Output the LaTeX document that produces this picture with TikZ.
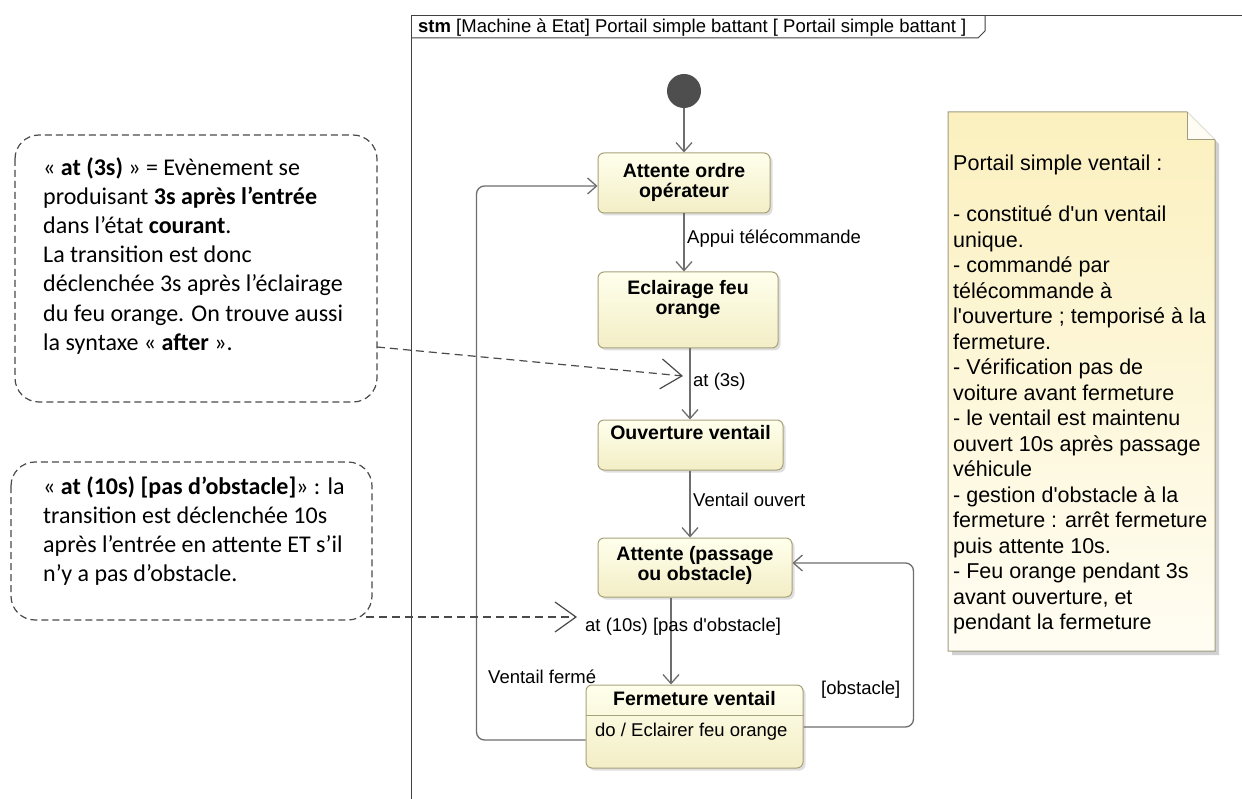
\documentclass[tikz,border=0pt]{standalone}
\usepackage{fontspec}
\setmainfont{Liberation Sans}[Ligatures=TeXOff]
\newfontfamily\calfont{Carlito}
\usetikzlibrary{arrows.meta,shadows,calc}
\definecolor{stborder}{HTML}{A8A27A}
\definecolor{sttop}{HTML}{FFFFEC}
\definecolor{stbot}{HTML}{F3EEC6}
\definecolor{lineg}{HTML}{6E6E6E}
\definecolor{framec}{HTML}{404040}
\definecolor{notetop}{HTML}{FBF0BE}
\definecolor{notebot}{HTML}{FFFDF3}
\definecolor{noteborder}{HTML}{A09C80}
\definecolor{dashg}{HTML}{4A4A4A}
\definecolor{initg}{HTML}{4E4E4E}
\newcommand\dgfont{\fontsize{18.5}{20}\selectfont}
\newcommand\dgbold{\fontsize{19.5}{20}\selectfont\bfseries}
\newcommand\notefont{\fontsize{21.5}{25.5}\selectfont}
\newcommand\calsize{\calfont\fontsize{24}{29.2}\selectfont}
\begin{document}
\begin{tikzpicture}[x=1pt,y=-1pt,
  st/.style={draw=stborder, line width=1pt, rounded corners=6pt, top color=sttop, bottom color=stbot,
    drop shadow={shadow xshift=2.5pt, shadow yshift=-2.5pt, opacity=0.25}, inner sep=0},
  sttxt/.style={font=\dgbold, align=center, inner sep=0, text=black},
  lbl/.style={font=\dgfont, inner sep=0, anchor=west, text=black},
  tr/.style={draw=lineg, line width=1.3pt, -{Straight Barb[length=9pt,width=16pt]}},
  callout/.style={draw=dashg, line width=1.2pt, dash pattern=on 7pt off 4pt, rounded corners=24pt},
  calltxt/.style={font=\calsize, align=left, inner sep=0, anchor=north west, text=black},
  calarrow/.style={draw=dashg, line width=1.2pt, dash pattern=on 8pt off 5pt, -{Straight Barb[length=21pt,width=30pt]}}
]
\useasboundingbox (0,0) rectangle (1242,799);
\fill[white] (0,0) rectangle (1242,799);

% frame
\draw[framec, line width=1pt] (411,799) -- (411,16) -- (1242,16);
\draw[framec, line width=1pt] (411,38) -- (978,38) -- (985,31) -- (985,16);
\node[anchor=base west, inner sep=0, font=\dgfont] (hdr) at (418,33)
  {\textbf{stm} [Machine à Etat] Portail simple battant [ Portail simple battant ]};

% initial state
\node[circle, fill=initg, minimum size=34pt, inner sep=0] (init) at (684,91) {};

% states
\node[st, minimum width=172pt, minimum height=60pt] (s1) at (684,183) {};
\node[sttxt] (t1) at (684,182) {Attente ordre\\opérateur};

\node[st, minimum width=180pt, minimum height=76pt] (s2) at (688,310) {};
\node[sttxt] (t2) at (688,300) {Eclairage feu\\orange};

\node[st, minimum width=185pt, minimum height=50pt] (s3) at (690.5,445) {};
\node[sttxt] (t3) at (690.5,433) {Ouverture ventail};

\node[st, minimum width=194pt, minimum height=59pt] (s4) at (695,567.5) {};
\node[sttxt] (t4) at (695,565) {Attente (passage\\ou obstacle)};

\node[st, minimum width=217pt, minimum height=83pt] (s5) at (694.5,726.5) {};
\draw[stborder, line width=1pt] ([yshift=11.5pt]s5.west) -- ([yshift=11.5pt]s5.east);
\node[sttxt] (t5) at (694.5,699) {Fermeture ventail};
\node[lbl] (t5b) at (595,732) {do / Eclairer feu orange};

% transitions
\draw[tr] (init) -- (s1);
\draw[tr] (s1.south) -- (s1.south |- s2.north);
\node[lbl] (l12) at (687,239) {Appui télécommande};
\draw[tr] ([xshift=2pt]s2.south) -- ([xshift=2pt]s2.south |- s3.north);
\node[lbl] (l23) at (693,382) {at (3s)};
\draw[tr] ([xshift=-0.5pt]s3.south) -- ([xshift=-0.5pt]s3.south |- s4.north);
\node[lbl] (l34) at (693,500) {Ventail ouvert};
\draw[tr] ([xshift=-24pt]s4.south) -- ([xshift=-24pt]s4.south |- s5.north);
\node[lbl] (l45) at (585,627) {at (10s) [pas d'obstacle]};

\draw[tr, rounded corners=8pt] ([yshift=-13.5pt]s5.west) -- ++(-109,0) |- ([yshift=-3pt]s1.west);
\node[lbl] (l51) at (488,677) {Ventail fermé};
\draw[tr, rounded corners=8pt] ([yshift=-0.5pt]s5.east) -- ++(110,0) |- ([yshift=4.5pt]s4.east);
\node[lbl] (l54) at (821,690) {[obstacle]};

% note
\fill[black, opacity=0.18] (952,116) -- (1191,116) -- (1219,144) -- (1219,655) -- (952,655) -- cycle;
\path[draw=noteborder, line width=1pt, top color=notetop, bottom color=notebot]
  (948,112) -- (1187,112) -- (1215,140) -- (1215,651) -- (948,651) -- cycle;
\draw[noteborder, line width=1pt, fill=notebot] (1187,112) -- (1187,140) -- (1215,140);
\node[font=\notefont, align=left, inner sep=0, anchor=north west] (note) at (953,155) {%
Portail simple ventail :\\[25.5pt]
- constitué d'un ventail\\
unique.\\
- commandé par\\
télécommande à\\
l'ouverture ; temporisé à la\\
fermeture.\\
- Vérification pas de\\
voiture avant fermeture\\
- le ventail est maintenu\\
ouvert 10s après passage\\
véhicule\\
- gestion d'obstacle à la\\
fermeture : arrêt fermeture\\
puis attente 10s.\\
- Feu orange pendant 3s\\
avant ouverture, et\\
pendant la fermeture};

% callouts
\draw[callout] (15,135) rectangle (377,402);
\node[calltxt] (c1) at (43,157) {%
« \textbf{at (3s)} » = Evènement se\\
produisant \textbf{3s après l’entrée}\\
dans l’état \textbf{courant}.\\
La transition est donc\\
déclenchée 3s après l’éclairage\\
du feu orange. On trouve aussi\\
la syntaxe « \textbf{after} ».};
\coordinate (a1s) at (377,347);
\coordinate (a1e) at (683,376);
\draw[calarrow] (a1s) -- (a1e);

\draw[callout] (11,462) rectangle (372,620);
\node[calltxt] (c2) at (43,476) {%
« \textbf{at (10s) [pas d’obstacle]}» : la\\
transition est déclenchée 10s\\
après l’entrée en attente ET s’il\\
n’y a pas d’obstacle.};
\coordinate (a2s) at (366,617);
\coordinate (a2e) at (577,617);
\draw[calarrow] (a2s) -- (a2e);
\end{tikzpicture}
\end{document}
